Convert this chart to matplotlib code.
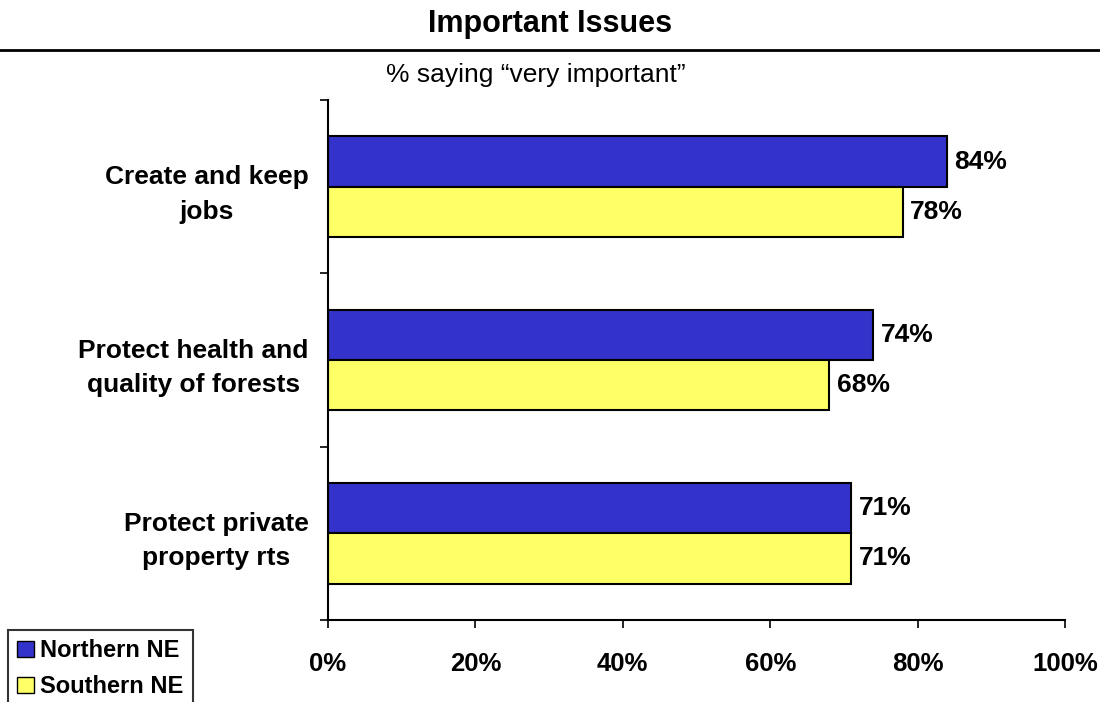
import matplotlib
matplotlib.use('Agg')
import matplotlib.pyplot as plt
from matplotlib import rcParams
from matplotlib.patches import Patch
import numpy as np

rcParams['font.family'] = ['Liberation Sans', 'DejaVu Sans']

# ── 数据 ──
categories = ['Create and keep\njobs', 'Protect health and\nquality of forests',
              'Protect private\nproperty rts']
northern = [84, 74, 71]
southern = [78, 68, 71]
series_names = ['Northern NE', 'Southern NE']
xticks = [0, 20, 40, 60, 80, 100]

BLUE = '#3333CC'
YELLOW = '#FFFF66'

fig = plt.figure(figsize=(11, 7.02), dpi=100)
ax = fig.add_axes([328 / 1100, 1 - 620 / 702, (1065 - 328) / 1100, (620 - 100) / 702])

y = np.arange(len(categories))
h = 0.29
ax.barh(y - h / 2, northern, h, color=BLUE, edgecolor='black', linewidth=1.5)
ax.barh(y + h / 2, southern, h, color=YELLOW, edgecolor='black', linewidth=1.5)

for yi, v in zip(y, northern):
    ax.text(v + 1, yi - h / 2, f'{v}%', va='center', ha='left',
            fontsize=19, fontweight='bold')
for yi, v in zip(y, southern):
    ax.text(v + 1, yi + h / 2, f'{v}%', va='center', ha='left',
            fontsize=19, fontweight='bold')

ax.set_xlim(0, 100)
ax.set_ylim(len(categories) - 0.5, -0.5)

# 刻度
ax.set_xticks(xticks)
ax.set_xticklabels([f'{t}%' for t in xticks], fontsize=18.5, fontweight='bold')
ax.tick_params(axis='x', direction='out', length=6, width=1.2, pad=17)
ax.set_yticks(np.arange(len(categories) + 1) - 0.5)
ax.set_yticklabels([])
ax.tick_params(axis='y', direction='out', length=6, width=1.2)
ax.set_yticks(y, minor=True)
ax.set_yticklabels(categories, minor=True, fontsize=19, fontweight='bold',
                   multialignment='center', linespacing=1.55)
ax.tick_params(axis='y', which='minor', length=0, pad=14)

for s in ['top', 'right']:
    ax.spines[s].set_visible(False)
for s in ['left', 'bottom']:
    ax.spines[s].set_linewidth(1.5)

# 标题 + 横线
fig.text(0.5, 1 - 24 / 702, 'Important Issues', ha='center', va='center',
         fontsize=22, fontweight='bold')
fig.add_artist(plt.Line2D([0, 1], [1 - 50 / 702, 1 - 50 / 702], color='black',
                          linewidth=2, transform=fig.transFigure))
fig.text(536 / 1100, 1 - 75 / 702, '% saying \u201cvery important\u201d',
         ha='center', va='center', fontsize=19)

# 图例
handles = [Patch(facecolor=BLUE, edgecolor='black', label=series_names[0]),
           Patch(facecolor=YELLOW, edgecolor='black', label=series_names[1])]
leg = fig.legend(handles=handles, loc='upper left',
                 bbox_to_anchor=(8 / 1100, 1 - 630 / 702), frameon=True,
                 fancybox=False, edgecolor='black',
                 prop={'weight': 'bold', 'size': 17},
                 handlelength=0.7, handleheight=0.7, handletextpad=0.25,
                 borderpad=0.4, labelspacing=0.55, borderaxespad=0)
leg.get_frame().set_linewidth(1.5)

fig.savefig('out.png', dpi=100, facecolor='white')
